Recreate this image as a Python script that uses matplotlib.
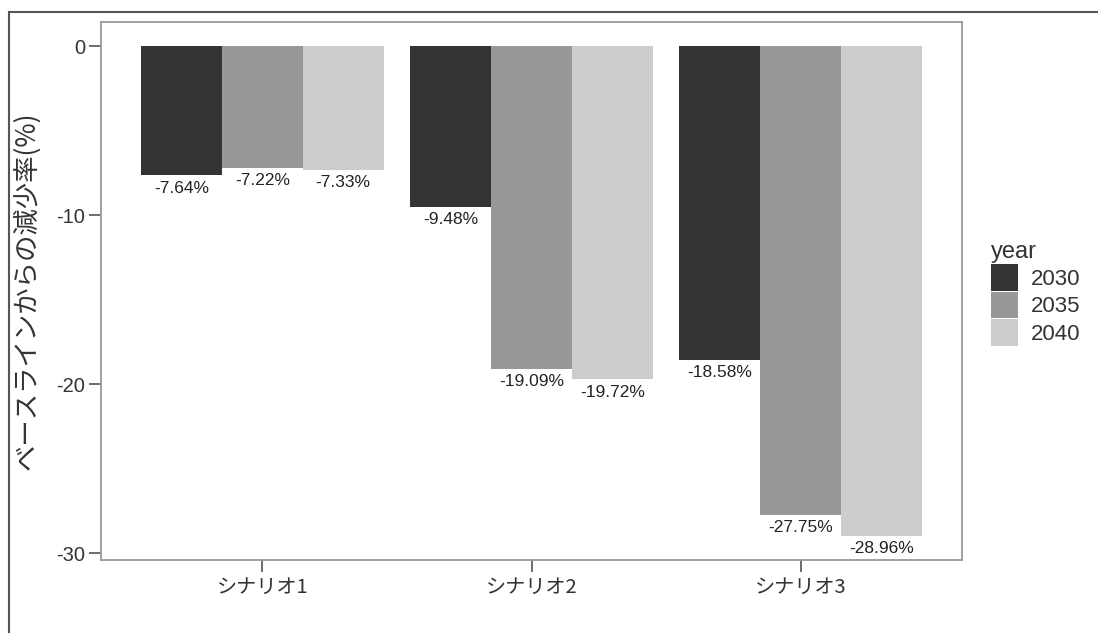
import matplotlib
matplotlib.use('Agg')
import matplotlib.pyplot as plt
import numpy as np

plt.rcParams['font.family'] = ['Liberation Sans', 'Noto Sans CJK JP']

# data
scenarios = ['シナリオ1', 'シナリオ2', 'シナリオ3']
years = ['2030', '2035', '2040']
v2030 = [-7.64, -9.48, -18.58]
v2035 = [-7.22, -19.09, -27.75]
v2040 = [-7.33, -19.72, -28.96]
colors = ['#333333', '#989898', '#cccccc']

fig = plt.figure(figsize=(10.98, 6.33), dpi=100)
ax = fig.add_axes([101 / 1098, 1 - 560 / 633, 861 / 1098, 538 / 633])

x = np.arange(1, len(scenarios) + 1)
w = 0.3
for i, (vals, yr) in enumerate(zip([v2030, v2035, v2040], years)):
    pos = x + (i - 1) * w
    ax.bar(pos, vals, width=w, color=colors[i], label=yr)
    for p, v in zip(pos, vals):
        ax.text(p, v - 0.3, '%.2f%%' % v, ha='center', va='top',
                fontsize=12.5, color='#222222')

ax.set_xlim(0.4, 3.6)
ax.set_ylim(-30.41, 1.45)
ax.set_yticks([0, -10, -20, -30])
ax.set_yticklabels(['0', '-10', '-20', '-30'])
ax.set_xticks(x)
ax.set_xticklabels(scenarios, family=['Noto Sans CJK JP', 'Liberation Sans'])
ax.tick_params(labelsize=14.5, length=8.5, width=1.2, pad=3,
               colors='#555555', labelcolor='#333333')
ax.tick_params(axis='x', labelsize=14.5, pad=4)
for s in ax.spines.values():
    s.set_color('#999999')
    s.set_linewidth(1.3)
ax.set_ylabel('ベースラインからの減少率(%)', fontsize=19, color='#333333',
              family=['Noto Sans CJK JP', 'Liberation Sans'])
ax.yaxis.set_label_coords((40 - 101) / 861, 0.5)

leg = ax.legend(title='year', loc='upper left',
                bbox_to_anchor=(991 / 1098, 1 - 241 / 633),
                bbox_transform=fig.transFigure, borderpad=0, borderaxespad=0,
                frameon=False, fontsize=16, title_fontsize=17,
                handlelength=1.2, handleheight=1.45, labelspacing=0.05,
                handletextpad=0.6, alignment='left')
for t in leg.get_texts():
    t.set_color('#333333')
leg.get_title().set_color('#333333')

# dark frame lines at top and left of the figure
fig.add_artist(plt.Line2D([9 / 1098, 1], [1 - 12 / 633, 1 - 12 / 633],
                          color='#555555', lw=1.5))
fig.add_artist(plt.Line2D([9 / 1098, 9 / 1098], [0, 1 - 12 / 633],
                          color='#555555', lw=1.5))

fig.savefig('out.png', dpi=100)
